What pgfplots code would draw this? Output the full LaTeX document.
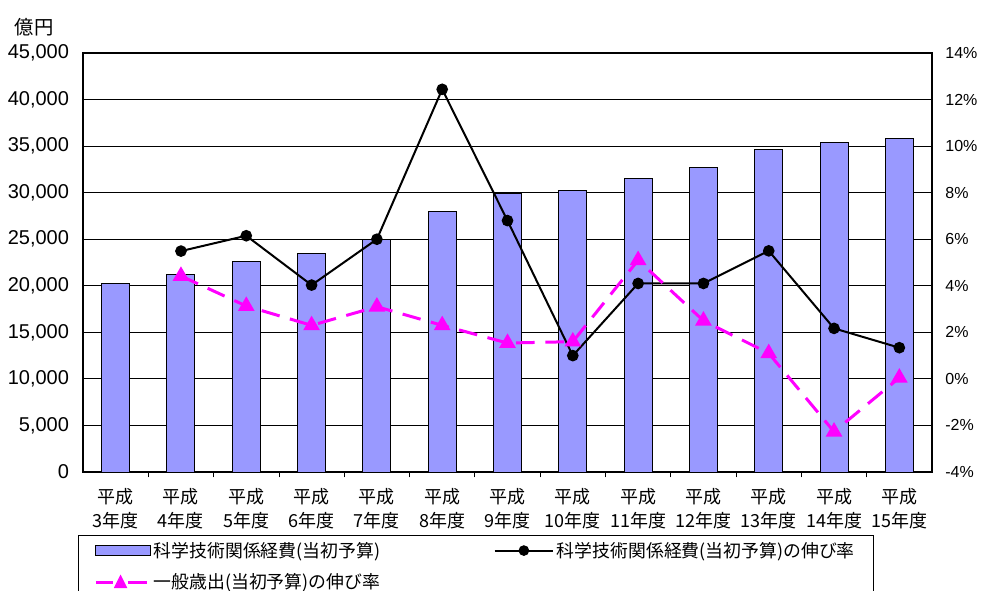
\documentclass[border=0pt]{standalone}
\usepackage{pgfplots}
\pgfplotsset{compat=1.18}
\usepackage{fontspec}
\setmainfont{Liberation Sans}
\newfontfamily\jp{Noto Sans CJK JP}
\definecolor{barblue}{HTML}{9999FF}
\definecolor{mag}{HTML}{FF00FF}
\begin{document}
\begin{tikzpicture}
\path[use as bounding box] (-62.25pt,-88.5pt) rectangle (673.5pt,354pt);
\begin{axis}[
  at={(0pt,0pt)}, anchor=south west, scale only axis, clip=false,
  width=636.75pt, height=314.25pt,
  xmin=-0.5, xmax=12.5, ymin=0, ymax=45000,
  ytick={0,5000,...,45000},
  ymajorgrids, major grid style={black, line width=0.6pt},
  axis line style={black, line width=1.1pt},
  ytick pos=left, xtick pos=bottom,
  xtick={0,...,12},
  minor xtick={0.5,1.5,...,11.5},
  major x tick style={draw=none},
  minor x tick style={black, line width=0.6pt},
  minor tick length=4pt, major tick length=4pt,
  y tick style={black, line width=0.6pt},
  xticklabels={{平成\\3年度},{平成\\4年度},{平成\\5年度},{平成\\6年度},{平成\\7年度},{平成\\8年度},{平成\\9年度},{平成\\10年度},{平成\\11年度},{平成\\12年度},{平成\\13年度},{平成\\14年度},{平成\\15年度}},
  xticklabel style={align=center, font=\jp\fontsize{13.5}{18}\selectfont, yshift=-5pt},
  /pgf/number format/assume math mode=true,
  /pgf/number format/1000 sep={,},
  scaled y ticks=false,
  yticklabel style={font=\fontsize{15}{17}\selectfont, xshift=-7pt},
  ybar, bar width=21pt,
]
\addplot[fill=barblue, draw=black, line width=0.75pt] coordinates {
(0,20266) (1,21265) (2,22586) (3,23488) (4,24949) (5,28031) (6,29933)
(7,30212) (8,31543) (9,32725) (10,34615) (11,35367) (12,35797)};
\node[font=\jp\fontsize{14.5}{16}\selectfont] at (rel axis cs:-0.0577,1.062) {億円};
\end{axis}
\begin{axis}[
  at={(0pt,0pt)}, anchor=south west, scale only axis,
  width=636.75pt, height=314.25pt,
  xmin=-0.5, xmax=12.5, ymin=-4, ymax=14,
  axis x line=none,
  axis y line*=right,
  axis line style={black, line width=1.1pt},
  ytick={-4,-2,...,14},
  y tick style={black, line width=0.6pt},
  major tick length=4pt,
  /pgf/number format/assume math mode=true,
  yticklabel={\pgfmathprintnumber{\tick}\%},
  yticklabel style={font=\fontsize{12}{15}\selectfont, xshift=6.5pt},
  legend style={at={(-0.006,-0.150)}, anchor=north west, draw=black, line width=0.75pt,
    font=\jp\fontsize{13.4}{15}\selectfont, inner xsep=12pt, inner ysep=3pt, row sep=7pt,
    /tikz/every even column/.append style={column sep=83pt}},
  legend columns=2,
  legend cell align=left,
]
\addplot[black, line width=1.5pt, mark=*, mark size=3.6pt, forget plot] coordinates {
(1,5.49) (2,6.15) (3,4.03) (4,6.0) (5,12.44) (6,6.8) (7,1.0) (8,4.1) (9,4.1) (10,5.5) (11,2.17) (12,1.34)};
\addplot[mag, line width=2.25pt, dash pattern=on 14pt off 8pt, mark=triangle*, mark size=5pt, mark options={solid, fill=mag}, forget plot] coordinates {
(1,4.42) (2,3.13) (3,2.3) (4,3.1) (5,2.3) (6,1.54) (7,1.6) (8,5.1) (9,2.5) (10,1.1) (11,-2.27) (12,0.05)};
\addlegendimage{legend image code/.code={\draw[fill=barblue, draw=black, line width=0.75pt] (0pt,-3.75pt) rectangle (41pt,3.75pt);}}
\addlegendentry{科学技術関係経費(当初予算)}
\addlegendimage{legend image code/.code={\draw[black, line width=1.5pt] (0pt,0pt) -- (44pt,0pt); \fill[black] (22pt,0pt) circle (3.6pt);}}
\addlegendentry{科学技術関係経費(当初予算)の伸び率}
\addlegendimage{legend image code/.code={\draw[mag, line width=2.25pt] (0pt,0pt) -- (13pt,0pt); \draw[mag, line width=2.25pt] (24pt,0pt) -- (38pt,0pt); \fill[mag] (14pt,-4pt) -- (23pt,-4pt) -- (18.5pt,5pt) -- cycle;}}
\addlegendentry{一般歳出(当初予算)の伸び率}
\end{axis}
\end{tikzpicture}
\end{document}
